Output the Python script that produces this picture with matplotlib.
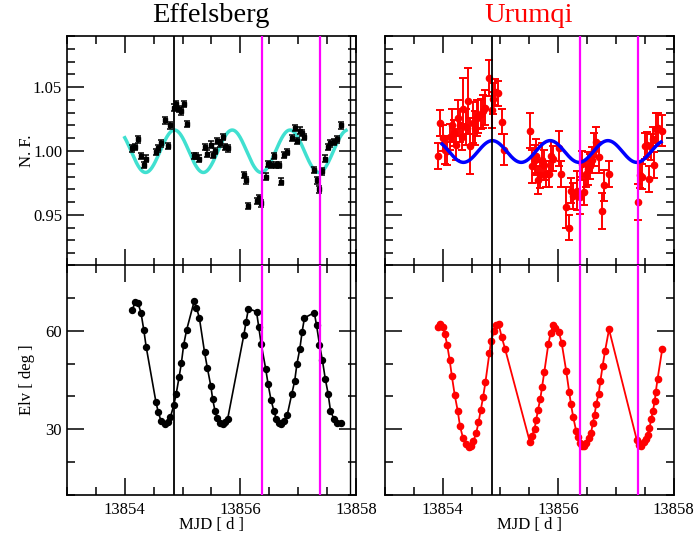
import matplotlib
matplotlib.use("Agg")
import matplotlib.pyplot as plt
import numpy as np
from matplotlib.ticker import MultipleLocator

plt.rcParams['font.family'] = ['Liberation Serif', 'DejaVu Serif']
plt.rcParams['mathtext.fontset'] = 'stix'

# ---- Effelsberg: epochs shared by flux and elevation ----
eff_mjd = [13854.13, 13854.18, 13854.23, 13854.28, 13854.33, 13854.37,
           13854.54, 13854.58, 13854.63, 13854.69, 13854.74, 13854.79,
           13854.85, 13854.89, 13854.94, 13854.98, 13855.02, 13855.07,
           13855.20, 13855.24, 13855.29, 13855.38, 13855.43, 13855.49,
           13855.52, 13855.56, 13855.60, 13855.65, 13855.70, 13855.74,
           13855.78, 13856.06, 13856.10, 13856.14, 13856.28, 13856.32,
           13856.36, 13856.44, 13856.48, 13856.53, 13856.58, 13856.62,
           13856.67, 13856.71, 13856.75, 13856.81, 13856.89, 13856.94,
           13856.98, 13857.03, 13857.07, 13857.11, 13857.28, 13857.32,
           13857.37, 13857.42, 13857.47, 13857.52, 13857.56, 13857.62,
           13857.68, 13857.74]
eff_nf = [1.002, 1.003, 1.009, 0.996, 0.989, 0.994,
          0.999, 1.002, 1.006, 1.024, 1.004, 1.020,
          1.034, 1.037, 1.033, 1.031, 1.037, 1.021,
          0.996, 0.996, 0.994, 1.003, 0.998, 1.005,
          0.997, 1.000, 1.008, 1.006, 1.011, 1.003,
          1.002, 0.981, 0.977, 0.957, 0.961, 0.963,
          0.959, 0.980, 0.990, 0.989, 0.996, 0.989,
          0.989, 0.976, 0.997, 0.999, 1.010, 1.018,
          1.008, 1.016, 1.014, 1.011, 0.985, 0.977,
          0.970, 0.984, 0.994, 1.003, 1.006, 1.007,
          1.009, 1.020]
eff_err = 0.0025
eff_elv = [66.3, 68.8, 68.3, 65.5, 60.1, 55.1,
           38.2, 35.2, 32.4, 31.7, 32.2, 33.7,
           37.5, 40.8, 45.9, 50.2, 55.8, 60.2,
           68.9, 67.0, 64.0, 53.5, 48.6, 43.1,
           39.3, 35.7, 33.5, 31.9, 31.6, 32.2,
           33.1, 58.6, 62.8, 66.7, 65.8, 61.0,
           56.1, 48.3, 43.8, 39.0, 35.7, 33.2,
           31.9, 31.7, 32.4, 34.2, 40.7, 44.6,
           49.9, 54.5, 59.7, 63.9, 65.5, 61.6,
           55.8, 51.1, 45.4, 40.8, 35.7, 33.1,
           31.8, 31.8]

# ---- Urumqi normalised flux ----
urq_mjd = [13853.92, 13853.96, 13854.00, 13854.04, 13854.07, 13854.12,
           13854.16, 13854.20, 13854.23, 13854.26, 13854.30, 13854.33,
           13854.36, 13854.40, 13854.44, 13854.48, 13854.52, 13854.56,
           13854.59, 13854.62, 13854.66, 13854.70, 13854.74, 13854.81,
           13854.85, 13854.88, 13854.91, 13854.96, 13855.03, 13855.07,
           13855.52, 13855.55, 13855.59, 13855.62, 13855.65, 13855.68,
           13855.72, 13855.75, 13855.79, 13855.84, 13855.87, 13855.91,
           13856.01, 13856.05, 13856.13, 13856.18, 13856.22, 13856.26,
           13856.32, 13856.37, 13856.41, 13856.45, 13856.49, 13856.52,
           13856.55, 13856.58, 13856.62, 13856.66, 13856.70, 13856.76,
           13856.80, 13856.88,
           13857.39, 13857.42, 13857.45, 13857.50, 13857.53, 13857.57,
           13857.60, 13857.64, 13857.66, 13857.69, 13857.72, 13857.80]
urq_nf = [0.996, 1.022, 1.010, 1.001, 1.000, 1.011,
          1.020, 1.014, 1.005, 1.026, 1.020, 1.011,
          1.033, 1.019, 1.039, 1.004, 1.022, 1.018,
          1.026, 1.027, 1.029, 1.031, 1.034, 1.057,
          1.032, 1.041, 1.046, 1.045, 1.023, 1.001,
          1.016, 0.988, 0.993, 0.996, 0.977, 0.981,
          0.993, 0.989, 0.982, 0.982, 0.996, 0.994,
          1.002, 0.982, 0.956, 0.940, 0.969, 0.965,
          0.969, 0.964, 0.990, 0.968, 0.982, 0.986,
          0.988, 0.993, 1.001, 1.007, 0.995, 0.953,
          0.973, 0.982,
          0.960, 0.981, 0.980, 1.004, 1.005, 0.978,
          1.003, 1.009, 0.989, 1.017, 1.018, 1.016]
urq_err = [0.010, 0.010, 0.010, 0.011, 0.011, 0.010,
           0.013, 0.010, 0.012, 0.014, 0.013, 0.010,
           0.024, 0.014, 0.026, 0.022, 0.016, 0.013,
           0.014, 0.013, 0.012, 0.013, 0.014, 0.014,
           0.014, 0.012, 0.010, 0.010, 0.010, 0.012,
           0.014, 0.013, 0.012, 0.013, 0.011, 0.010,
           0.013, 0.012, 0.010, 0.010, 0.012, 0.010,
           0.014, 0.010, 0.016, 0.010, 0.010, 0.010,
           0.015, 0.013, 0.010, 0.010, 0.010, 0.013,
           0.010, 0.010, 0.013, 0.012, 0.012, 0.014,
           0.012, 0.010,
           0.014, 0.010, 0.010, 0.010, 0.010, 0.010,
           0.010, 0.010, 0.010, 0.013, 0.012, 0.012]

# ---- Urumqi elevation ----
urq_elv_mjd = [13853.92, 13853.96, 13854.00, 13854.04, 13854.08, 13854.12,
               13854.16, 13854.21, 13854.26, 13854.30, 13854.35, 13854.40,
               13854.45, 13854.49, 13854.53, 13854.58, 13854.62, 13854.66,
               13854.70, 13854.74, 13854.81, 13854.84, 13854.89, 13854.92,
               13854.97, 13855.02, 13855.08,
               13855.51, 13855.55, 13855.59, 13855.62, 13855.65, 13855.69,
               13855.72, 13855.76, 13855.83, 13855.87, 13855.91, 13855.95,
               13856.01, 13856.06, 13856.14, 13856.19, 13856.22, 13856.26,
               13856.31, 13856.34, 13856.38, 13856.41, 13856.45, 13856.49,
               13856.53, 13856.57, 13856.60, 13856.63, 13856.66, 13856.70,
               13856.73, 13856.77, 13856.81, 13856.88,
               13857.36, 13857.40, 13857.44, 13857.48, 13857.52, 13857.55,
               13857.58, 13857.61, 13857.64, 13857.67, 13857.69, 13857.72,
               13857.80]
urq_elv = [61.2, 61.9, 61.2, 58.9, 55.5, 51.2,
           46.1, 40.3, 35.7, 31.0, 27.5, 25.5,
           24.7, 24.9, 26.3, 28.8, 32.1, 35.9,
           39.8, 44.3, 53.3, 57.0, 59.9, 61.6,
           61.9, 58.2, 54.5,
           26.1, 28.1, 30.2, 32.9, 35.9, 39.2,
           42.8, 47.5, 56.0, 59.4, 61.6, 60.9,
           59.7, 56.3, 47.6, 41.4, 37.8, 33.7,
           29.6, 27.8, 25.7, 24.9, 24.9, 25.7,
           27.2, 29.0, 31.9, 34.5, 37.8, 40.8,
           44.6, 49.4, 53.7, 60.4,
           26.8, 25.2, 24.9, 26.0, 27.0, 28.3,
           30.3, 33.1, 35.6, 38.5, 41.5, 45.3,
           54.3]

# sinusoid fits: mean, amplitude, period [d], epoch of maximum, span
eff_fit = dict(mean=0.9998, amp=0.0166, period=1.0, t0=13854.86, start=13854.0, end=13857.83)
urq_fit = dict(mean=0.9996, amp=0.0085, period=1.0, t0=13854.86, start=13853.99, end=13857.78)

transit_line = 13854.85
event_lines = [13856.37, 13857.38]
eff_extra_line = 13857.89


def sine_model(p):
    t = np.linspace(p['start'], p['end'], 400)
    return t, p['mean'] + p['amp'] * np.cos(2 * np.pi * (t - p['t0']) / p['period'])


fig = plt.figure(figsize=(6.96, 5.41), dpi=100)
lx, rx, w = 0.0963, 0.553, 0.415
top_b, bot_b, h = 0.5083, 0.085, 0.4252
ax_tl = fig.add_axes([lx, top_b, w, h])
ax_bl = fig.add_axes([lx, bot_b, w, h])
ax_tr = fig.add_axes([rx, top_b, w, h])
ax_br = fig.add_axes([rx, bot_b, w, h])

for ax in (ax_tl, ax_bl, ax_tr, ax_br):
    ax.set_xlim(13853, 13858)
    ax.xaxis.set_major_locator(MultipleLocator(2))
    ax.xaxis.set_minor_locator(MultipleLocator(0.5))
    ax.tick_params(which='both', direction='in', top=True, right=True, width=1.1)
    ax.tick_params(which='major', length=12, labelsize=12)
    ax.tick_params(which='minor', length=6)
    ax.tick_params(axis='x', pad=5)
    for s in ax.spines.values():
        s.set_linewidth(1.2)
    ax.xaxis.set_major_formatter(plt.FuncFormatter(lambda v, _: '%d' % v))

for ax in (ax_tl, ax_tr):
    ax.set_ylim(0.91, 1.09)
    ax.yaxis.set_major_locator(MultipleLocator(0.05))
    ax.yaxis.set_minor_locator(MultipleLocator(0.01))
    ax.tick_params(labelbottom=False)
for ax in (ax_bl, ax_br):
    ax.set_ylim(10, 80)
    ax.yaxis.set_major_locator(MultipleLocator(30))
    ax.yaxis.set_minor_locator(MultipleLocator(10))
for ax in (ax_tr, ax_br):
    ax.tick_params(labelleft=False)
ax_tl.yaxis.set_major_formatter(plt.FuncFormatter(lambda v, _: '%.2f' % v))

# Effelsberg flux
t, y = sine_model(eff_fit)
ax_tl.plot(t, y, color='#40E0D0', lw=2.5, zorder=2)
ax_tl.errorbar(eff_mjd, eff_nf, yerr=eff_err, fmt='s', color='black', ms=3.3,
               elinewidth=1.1, capsize=2, capthick=1.1, zorder=3)

# Effelsberg elevation
ax_bl.plot(eff_mjd, eff_elv, '-o', color='black', ms=4.3, lw=1.2)

# Urumqi flux
t, y = sine_model(urq_fit)
ax_tr.errorbar(urq_mjd, urq_nf, yerr=urq_err, fmt='o', color='red', ms=4.5,
               elinewidth=1.4, capsize=3, capthick=1.4, zorder=2)
ax_tr.plot(t, y, color='blue', lw=2.5, zorder=3)

# Urumqi elevation
ax_br.plot(urq_elv_mjd, urq_elv, '-o', color='red', ms=4.5, lw=1.3)

for ax in (ax_tl, ax_bl, ax_tr, ax_br):
    ax.axvline(transit_line, color='black', lw=1.3, zorder=4)
    for v in event_lines:
        ax.axvline(v, color='magenta', lw=1.6, zorder=4)
for ax in (ax_tl, ax_bl):
    ax.axvline(eff_extra_line, color='black', lw=1.0, zorder=4)

ax_tl.set_ylabel('N. F.', fontsize=12)
ax_bl.set_ylabel('Elv [ deg ]', fontsize=12)
ax_tl.yaxis.set_label_coords(-0.112, 0.5)
ax_bl.yaxis.set_label_coords(-0.112, 0.5)
ax_bl.set_xlabel('MJD [ d ]', fontsize=12, labelpad=-1)
ax_br.set_xlabel('MJD [ d ]', fontsize=12, labelpad=-1)

fig.text(0.303, 0.972, 'Effelsberg', fontsize=20.5, ha='center', va='center', color='black')
fig.text(0.760, 0.972, 'Urumqi', fontsize=20.5, ha='center', va='center', color='red')

fig.savefig('out.png', dpi=100)
